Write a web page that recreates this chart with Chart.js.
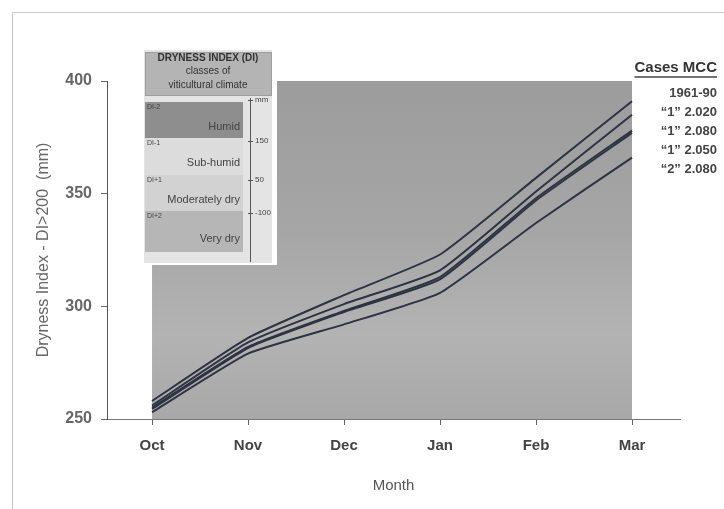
<!DOCTYPE html>
<html><head><meta charset="utf-8">
<script src="https://cdn.jsdelivr.net/npm/chart.js@4/dist/chart.umd.min.js"></script>
<style>html,body{margin:0;padding:0;background:#fff}#wrap{width:724px;height:509px;position:relative}</style>
</head><body><div id="wrap"><canvas id="c" width="724" height="509"></canvas></div>
<script>
const months = ["Oct","Nov","Dec","Jan","Feb","Mar"];
const seriesNames = ["1961-90","\u201c1\u201d 2.020","\u201c1\u201d 2.080","\u201c1\u201d 2.050","\u201c2\u201d 2.080"];
const s1961 = [258, 286, 305, 323, 357, 391];
const s1_2020 = [256, 284, 301, 316, 351, 385];
const s1_2080 = [255, 282, 298, 313, 348, 378];
const s1_2050 = [254.5, 281.5, 297.5, 312, 347, 377];
const s2_2080 = [253, 279, 292, 306, 337, 366];
const yTicks = [250, 300, 350, 400];
const insetClasses = ["Humid","Sub-humid","Moderately dry","Very dry"];
const insetCodes = ["DI-2","DI-1","DI+1","DI+2"];
const insetScale = ["mm","150","50","-100"];

const allSeries = [s1961, s1_2020, s1_2080, s1_2050, s2_2080];
const FONT = "'Liberation Sans', Arial, sans-serif";

const decor = {
  id: 'decor',
  beforeDraw(chart) {
    const ctx = chart.ctx;
    ctx.save();
    ctx.fillStyle = '#fff';
    ctx.fillRect(0, 0, 724, 509);
    ctx.strokeStyle = '#c8c8c8';
    ctx.lineWidth = 1;
    ctx.beginPath();
    ctx.moveTo(12.5, 509); ctx.lineTo(12.5, 12.5); ctx.lineTo(724, 12.5);
    ctx.stroke();
    ctx.restore();
  },
  beforeDatasetsDraw(chart) {
    const {ctx, scales: {x, y}} = chart;
    const x0 = x.getPixelForValue(0), x1 = x.getPixelForValue(months.length - 1);
    const y0 = y.getPixelForValue(400), y1 = y.getPixelForValue(250);
    ctx.save();
    const g = ctx.createLinearGradient(0, y0, 0, y1);
    g.addColorStop(0, '#9c9c9c');
    g.addColorStop(0.45, '#a6a6a6');
    g.addColorStop(0.75, '#b3b3b3');
    g.addColorStop(1, '#a8a8a8');
    ctx.fillStyle = g;
    ctx.fillRect(x0, y0, x1 - x0, y1 - y0);
    ctx.restore();
  },
  afterDraw(chart) {
    const ctx = chart.ctx;
    ctx.save();
    ctx.fillStyle = '#fff';
    ctx.fillRect(138, 40, 139, 225);
    ctx.fillStyle = '#e4e4e4';
    ctx.fillRect(144, 50, 128, 213);
    ctx.fillStyle = '#b4b4b4';
    ctx.fillRect(145, 52, 127, 44);
    ctx.strokeStyle = '#888';
    ctx.setLineDash([1, 1]);
    ctx.strokeRect(145.5, 52.5, 126, 43);
    ctx.setLineDash([]);
    ctx.fillStyle = '#333';
    ctx.textAlign = 'center';
    ctx.textBaseline = 'middle';
    ctx.font = "bold 10px " + FONT;
    ctx.fillText('DRYNESS INDEX (DI)', 208, 58);
    ctx.font = "10px " + FONT;
    ctx.fillText('classes of', 208, 71);
    ctx.fillText('viticultural climate', 208, 85);
    const bands = [[102, 138, '#8e8e8e'], [138, 175, '#dcdcdc'], [175, 211, '#d2d2d2'], [211, 252, '#b6b6b6']];
    bands.forEach((b, i) => {
      ctx.fillStyle = b[2];
      ctx.fillRect(145, b[0], 98, b[1] - b[0]);
      ctx.fillStyle = '#444';
      ctx.font = "7px " + FONT;
      ctx.textAlign = 'left';
      ctx.fillText(insetCodes[i], 147, b[0] + 5);
      ctx.font = "11px " + FONT;
      ctx.textAlign = 'right';
      ctx.fillText(insetClasses[i], 240, b[0] + (b[1] - b[0]) * 0.68);
    });
    ctx.strokeStyle = '#555';
    ctx.lineWidth = 1;
    ctx.beginPath();
    ctx.moveTo(250.5, 98); ctx.lineTo(250.5, 262);
    ctx.stroke();
    const sy = [100, 141, 180, 213];
    ctx.font = "8px " + FONT;
    ctx.textAlign = 'left';
    ctx.fillStyle = '#444';
    sy.forEach((yy, i) => {
      ctx.beginPath(); ctx.moveTo(248, yy + 0.5); ctx.lineTo(253, yy + 0.5); ctx.stroke();
      ctx.fillText(insetScale[i], 255, yy);
    });
    ctx.textAlign = 'right';
    ctx.textBaseline = 'middle';
    ctx.fillStyle = '#333';
    ctx.font = "bold 15px " + FONT;
    ctx.fillText('Cases MCC', 717, 68);
    const w = ctx.measureText('Cases MCC').width;
    ctx.strokeStyle = '#444';
    ctx.lineWidth = 1.5;
    ctx.beginPath(); ctx.moveTo(717 - w, 77); ctx.lineTo(717, 77); ctx.stroke();
    ctx.font = "bold 13px " + FONT;
    ctx.fillStyle = '#444';
    seriesNames.forEach((n, i) => ctx.fillText(n, 717, 93 + i * 19));
    ctx.restore();
  }
};

new Chart(document.getElementById('c'), {
  type: 'line',
  data: {
    datasets: allSeries.map((s, k) => ({
      label: seriesNames[k],
      data: s.map((v, i) => ({x: i, y: v})),
      borderColor: '#2e3342',
      borderWidth: 2,
      pointRadius: 0,
      tension: 0.15,
      fill: false
    }))
  },
  options: {
    responsive: false,
    animation: false,
    devicePixelRatio: 1,
    layout: {padding: {left: 0, top: 81, right: 44, bottom: 0}},
    plugins: {legend: {display: false}, tooltip: {enabled: false}},
    scales: {
      x: {
        type: 'linear',
        min: -0.469,
        max: 5.5,
        afterBuildTicks: s => { s.ticks = months.map((m, i) => ({value: i})); },
        afterFit: s => { s.height = 90; },
        ticks: {
          callback: v => months[v],
          color: '#444',
          font: {family: FONT, size: 15, weight: 'bold'},
          padding: 12,
          maxRotation: 0,
          autoSkip: false
        },
        grid: {drawOnChartArea: false, drawTicks: true, tickLength: 6, color: '#666'},
        border: {display: true, color: '#777', dash: [2, 2]},
        title: {display: true, text: 'Month', color: '#555', font: {family: FONT, size: 15}, padding: {top: 14, bottom: 14}}
      },
      y: {
        min: 250,
        max: 400,
        afterBuildTicks: s => { s.ticks = yTicks.map(v => ({value: v})); },
        afterFit: s => { s.width = 107; },
        ticks: {
          color: '#666',
          font: {family: FONT, size: 16, weight: 'bold'},
          padding: 9
        },
        grid: {drawOnChartArea: false, drawTicks: true, tickLength: 6, color: '#666'},
        border: {display: true, color: '#555'},
        title: {display: true, text: 'Dryness Index - DI>200  (mm)', color: '#666', font: {family: FONT, size: 16}, padding: {top: 34, bottom: 0}}
      }
    }
  },
  plugins: [decor]
});
</script>
</body></html>
